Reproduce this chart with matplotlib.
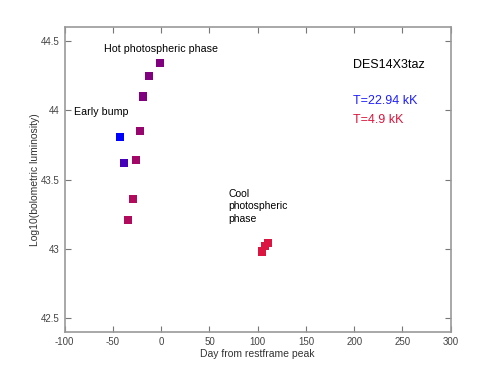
import numpy as np
import matplotlib
matplotlib.use("Agg")
import matplotlib.pyplot as plt
from matplotlib.colors import LinearSegmentedColormap

plt.rcParams['font.family'] = ['Liberation Sans', 'DejaVu Sans']
plt.rcParams['axes.unicode_minus'] = False

# days from restframe peak, log10 bolometric luminosity, temperature (kK)
days = [-42.7, -38.5, -34.0, -29.6, -25.8, -22.3, -18.5, -12.3, -1.2, 104.8, 108.0, 110.3]
loglum = [43.81, 43.62, 43.21, 43.36, 43.64, 43.85, 44.10, 44.25, 44.34, 42.98, 43.02, 43.04]
temp = [22.94, 18.0, 9.0, 9.0, 10.5, 11.5, 13.9, 13.9, 13.9, 4.9, 5.0, 5.0]
t_hot = 22.94
t_cool = 4.9

cmap = LinearSegmentedColormap.from_list("redblue", ["#dc1440", "#800080", "#0000ff"])

fig = plt.figure(figsize=(4.98, 3.74), dpi=100)
ax = fig.add_axes([0.13, 0.113, 0.775, 0.814])

ax.scatter(days, loglum, c=temp, cmap=cmap, vmin=t_cool, vmax=t_hot,
           marker='s', s=34, linewidths=0)

ax.set_xlim(-100, 300)
ax.set_ylim(42.4, 44.6)
ax.set_xticks(np.arange(-100, 301, 50))
ax.set_yticks([42.5, 43, 43.5, 44, 44.5])
ax.set_yticklabels(['42.5', '43', '43.5', '44', '44.5'])

for sp in ax.spines.values():
    sp.set_color('#999999')
    sp.set_linewidth(1.2)
ax.tick_params(direction='in', length=4, width=0.8, color='#777777',
               top=True, right=True, labelsize=7, labelcolor='#444444', pad=4)

ax.set_xlabel('Day from restframe peak', fontsize=7.5, color='#333333', labelpad=1)
ax.set_ylabel('Log10(bolometric luminosity)', fontsize=7.5, color='#333333', labelpad=0)

ax.text(-59, 44.445, 'Hot photospheric phase', fontsize=7.7, va='center')
ax.text(-90.4, 43.985, 'Early bump', fontsize=7.7, va='center')
ax.text(70, 43.306, 'Cool\nphotospheric\nphase', fontsize=7.5, va='center', linespacing=1.3)
ax.text(199, 44.33, 'DES14X3taz', fontsize=9, va='center')
ax.text(199, 44.065, 'T=%.2f kK' % t_hot, fontsize=9, va='center', color='#1e1eff')
ax.text(199, 43.93, 'T=%.1f kK' % t_cool, fontsize=9, va='center', color='#dc143c')

fig.savefig('out.png', dpi=100)
